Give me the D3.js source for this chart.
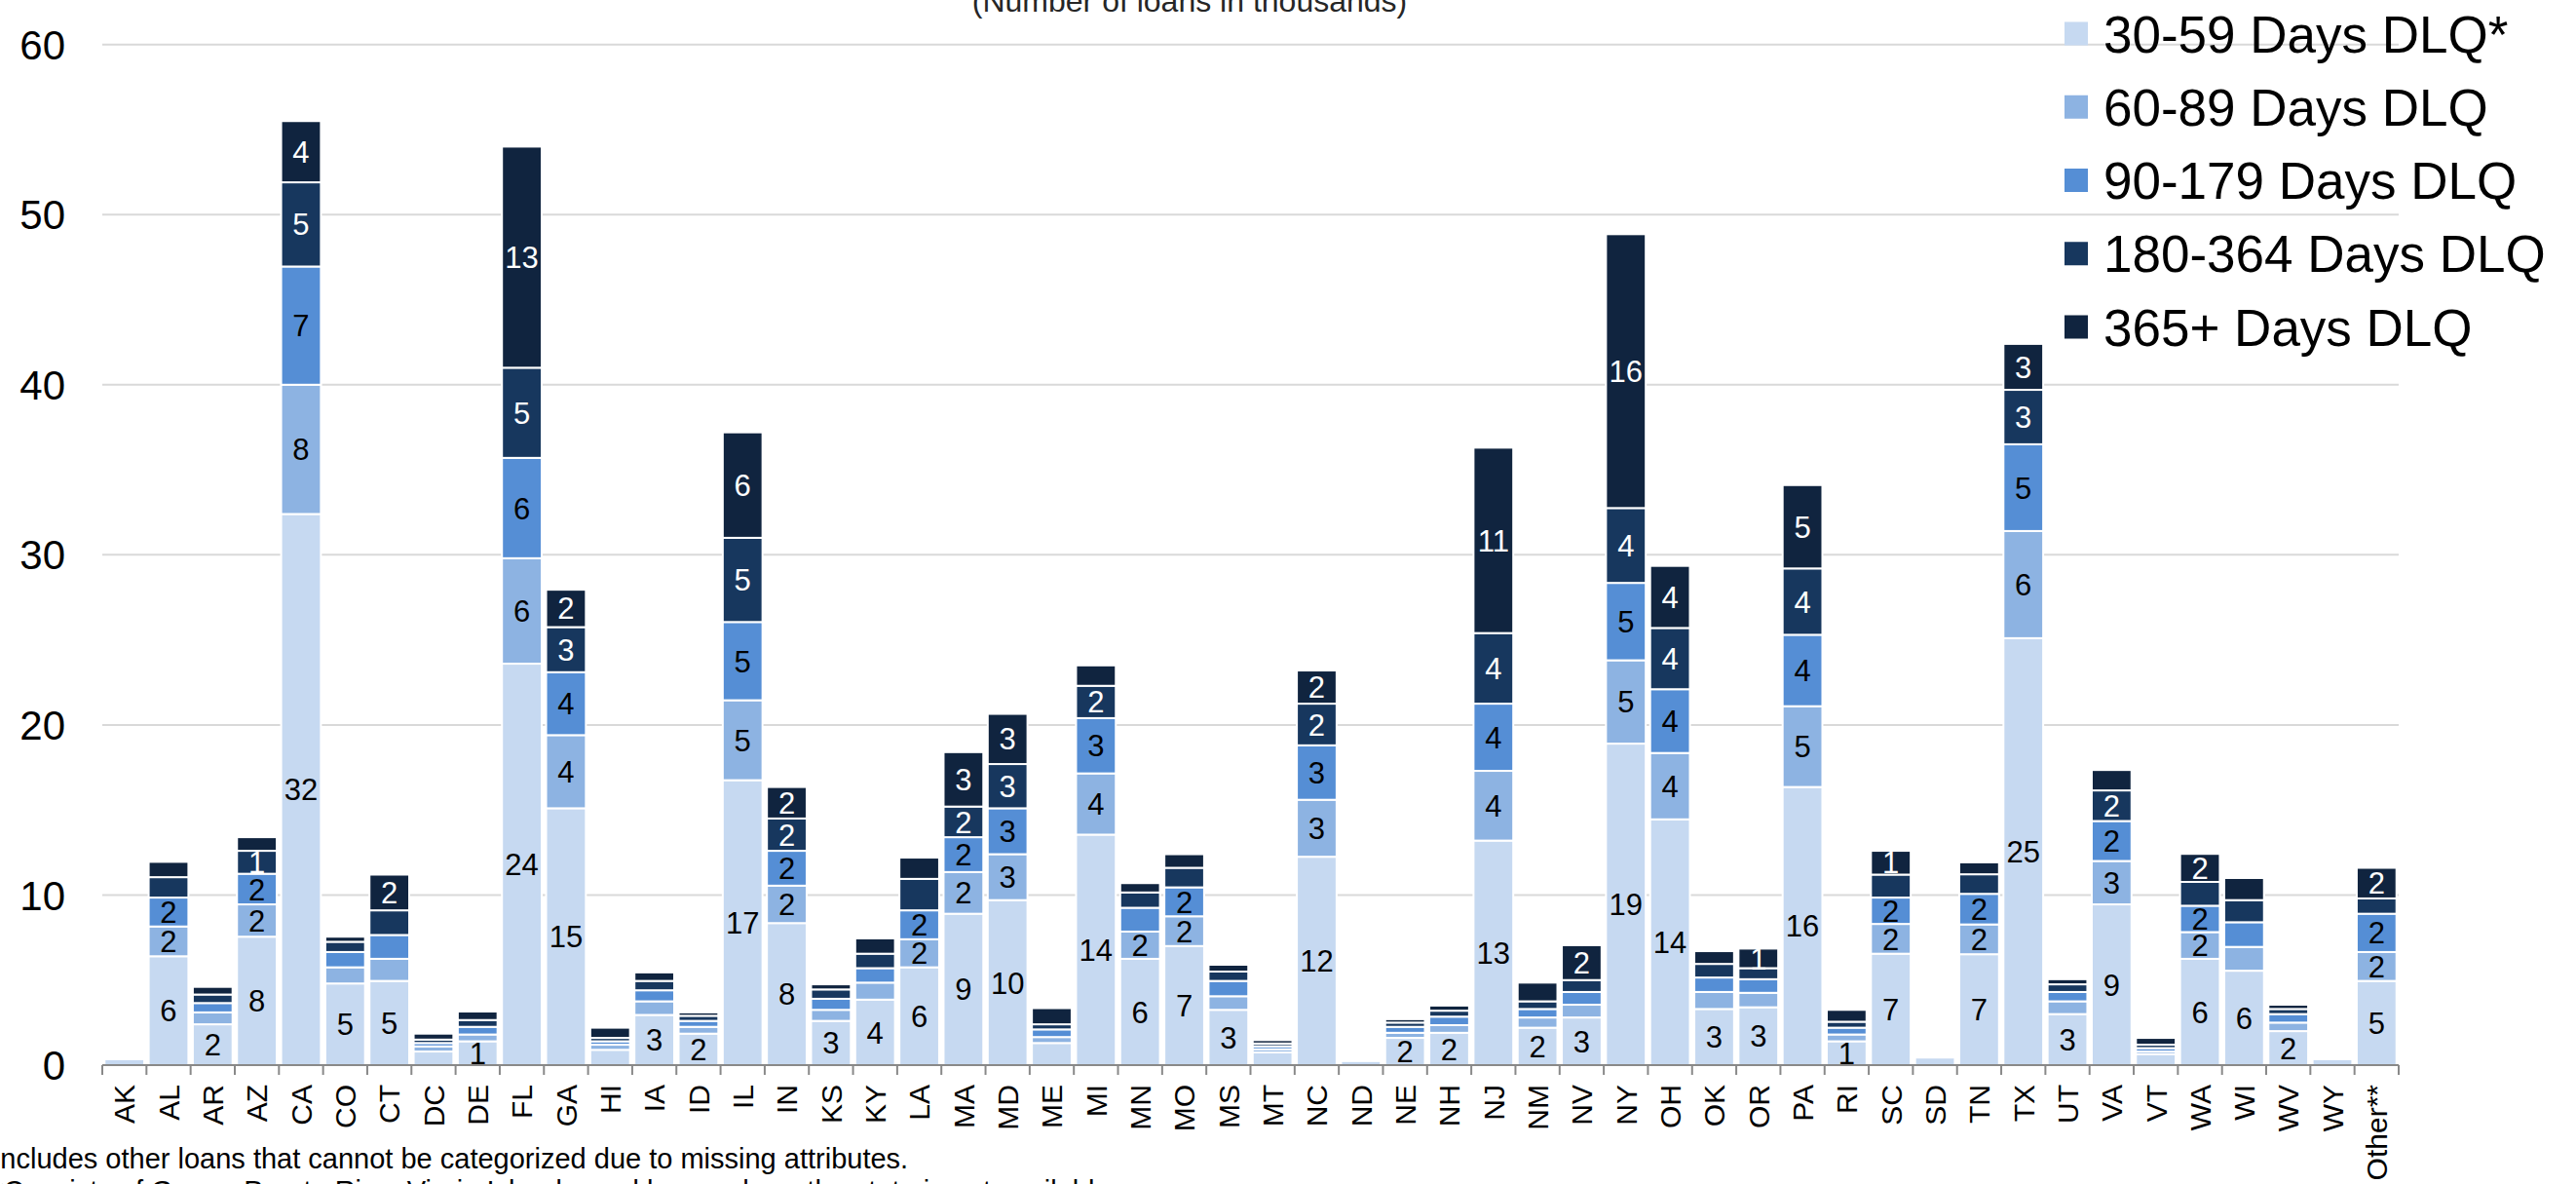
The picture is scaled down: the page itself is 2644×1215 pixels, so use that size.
<!DOCTYPE html>
<html>
<head>
<meta charset="utf-8">
<script src="https://cdn.jsdelivr.net/npm/d3@7"></script>
<style>
  html, body { margin: 0; padding: 0; background: #fff; }
  svg { display: block; }
  text { font-family: "Liberation Sans", Arial, sans-serif; }
</style>
</head>
<body>
<svg id="chart" width="2644" height="1215"></svg>
<script>
// ---------------- DATA ----------------
const states = ["AK","AL","AR","AZ","CA","CO","CT","DC","DE","FL","GA","HI","IA","ID","IL","IN","KS","KY","LA","MA","MD","ME","MI","MN","MO","MS","MT","NC","ND","NE","NH","NJ","NM","NV","NY","OH","OK","OR","PA","RI","SC","SD","TN","TX","UT","VA","VT","WA","WI","WV","WY","Other**"];

const seriesNames = ["30-59 Days DLQ*","60-89 Days DLQ","90-179 Days DLQ","180-364 Days DLQ","365+ Days DLQ"];

const dlq30_59 = [0.35,6.4,2.4,7.55,32.4,4.8,4.95,0.8,1.4,23.6,15.1,0.9,2.95,1.85,16.75,8.35,2.6,3.85,5.75,8.9,9.7,1.3,13.55,6.25,7.0,3.25,0.75,12.25,0.25,1.6,1.9,13.2,2.2,2.8,18.9,14.45,3.3,3.4,16.35,1.4,6.55,0.45,6.52,25.1,3.0,9.45,0.65,6.25,5.55,2.0,0.35,4.95];
const dlq60_89 = [0.1,1.75,0.7,1.9,7.6,0.95,1.3,0.3,0.4,6.2,4.3,0.3,0.8,0.4,4.7,2.2,0.65,1.0,1.65,2.45,2.7,0.35,3.6,1.6,1.75,0.8,0.18,3.35,0.03,0.3,0.45,4.1,0.6,0.75,4.9,3.9,1.0,0.85,4.75,0.4,1.75,0.05,1.75,6.3,0.75,2.55,0.15,1.57,1.4,0.5,0.03,1.7];
const dlq90_179 = [0.08,1.7,0.55,1.8,6.95,0.9,1.4,0.2,0.45,5.9,3.7,0.2,0.65,0.35,4.6,2.05,0.65,0.85,1.7,2.05,2.7,0.45,3.25,1.4,1.7,0.9,0.18,3.2,0.02,0.35,0.5,3.95,0.5,0.75,4.55,3.75,0.85,0.8,4.2,0.4,1.55,0.04,1.8,5.1,0.55,2.35,0.2,1.55,1.45,0.5,0.02,2.25];
const dlq180_364 = [0.05,1.2,0.5,1.35,4.95,0.6,1.45,0.2,0.4,5.3,2.65,0.2,0.55,0.3,4.95,1.9,0.55,0.85,1.85,1.8,2.6,0.3,1.9,0.9,1.15,0.55,0.16,2.45,0.01,0.25,0.35,4.15,0.45,0.7,4.4,3.6,0.8,0.65,3.9,0.35,1.35,0.03,1.15,3.2,0.45,1.8,0.2,1.4,1.3,0.3,0.02,0.9];
const dlq365plus = [0.05,0.9,0.45,0.8,3.6,0.3,2.1,0.35,0.5,13.0,2.2,0.6,0.5,0.2,6.2,1.85,0.3,0.9,1.25,3.2,2.95,0.95,1.2,0.55,0.8,0.4,0.2,1.95,0.01,0.2,0.3,10.9,1.1,2.05,16.1,3.65,0.75,1.15,4.9,0.7,1.4,0.03,0.7,2.7,0.3,1.2,0.4,1.65,1.3,0.25,0.02,1.8];

const yTicks = [0,10,20,30,40,50,60];

// data labels: shown when value >= 1.5, with exceptions
const labelHidden = ["LA|180-364 Days DLQ"];
const labelShown = ["DE|30-59 Days DLQ*","RI|30-59 Days DLQ*","AZ|180-364 Days DLQ","OR|365+ Days DLQ","SC|365+ Days DLQ"];

const titleText = "(Number of loans in thousands)";
const footnotes = [
  "*Includes other loans that cannot be categorized due to missing attributes.",
  "**Consists of Guam, Puerto Rico, Virgin Islands, and loans where the state is not available."
];

// ---------------- CHART ----------------
const colors = ["#c6d9f1","#8db3e2","#558ed5","#17375e","#10243f"];
const labelColors = ["#000","#000","#000","#fff","#fff"];

const seriesArrays = [dlq30_59, dlq60_89, dlq90_179, dlq180_364, dlq365plus];
const table = states.map((s, i) => {
  const row = { state: s };
  seriesNames.forEach((n, k) => row[n] = seriesArrays[k][i]);
  return row;
});

const svg = d3.select("#chart");
const plotLeft = 105, plotRight = 2462, plotTop = 45.7, plotBottom = 1093;

const x = d3.scaleBand().domain(states).range([plotLeft, plotRight]).paddingInner(0.1).paddingOuter(0.05);
const y = d3.scaleLinear().domain([0, 60]).range([plotBottom, plotTop]);

// gridlines
svg.append("g").selectAll("line").data(yTicks.filter(t => t > 0)).join("line")
  .attr("x1", plotLeft).attr("x2", plotRight)
  .attr("y1", d => y(d)).attr("y2", d => y(d))
  .attr("stroke", "#d9d9d9").attr("stroke-width", 2);

// y axis labels
svg.append("g").selectAll("text").data(yTicks).join("text")
  .attr("x", 67).attr("y", d => y(d)).attr("dy", "0.36em")
  .attr("text-anchor", "end").attr("font-size", 42).attr("fill", "#000")
  .text(d => d);

// stacked bars
const stack = d3.stack().keys(seriesNames);
const stacked = stack(table);

const gBars = svg.append("g");
stacked.forEach((layer, k) => {
  gBars.append("g").selectAll("rect").data(layer).join("rect")
    .attr("x", d => x(d.data.state))
    .attr("width", x.bandwidth())
    .attr("y", d => y(d[1]))
    .attr("height", d => Math.max(0, y(d[0]) - y(d[1])))
    .attr("fill", colors[k])
    .attr("stroke", "#fff").attr("stroke-width", 2);
});

// data labels
const gLabels = svg.append("g");
stacked.forEach((layer, k) => {
  const name = seriesNames[k];
  const items = layer.filter(d => {
    const key = d.data.state + "|" + name;
    const v = d[1] - d[0];
    if (labelHidden.includes(key)) return false;
    if (labelShown.includes(key)) return true;
    return v >= 1.5;
  });
  gLabels.append("g").selectAll("text").data(items).join("text")
    .attr("x", d => x(d.data.state) + x.bandwidth() / 2)
    .attr("y", d => (y(d[0]) + y(d[1])) / 2)
    .attr("dy", "0.36em")
    .attr("text-anchor", "middle")
    .attr("font-size", 31)
    .attr("fill", labelColors[k])
    .text(d => Math.round(d[1] - d[0]));
});

// x axis
const gx = svg.append("g");
gx.append("line").attr("x1", plotLeft).attr("x2", plotRight)
  .attr("y1", plotBottom).attr("y2", plotBottom)
  .attr("stroke", "#898989").attr("stroke-width", 2);
const boundaries = d3.range(states.length + 1).map(i => plotLeft + (plotRight - plotLeft) * i / states.length);
gx.selectAll("line.tick").data(boundaries).join("line").attr("class", "tick")
  .attr("x1", d => d).attr("x2", d => d)
  .attr("y1", plotBottom).attr("y2", plotBottom + 10)
  .attr("stroke", "#898989").attr("stroke-width", 2);
gx.selectAll("text").data(states).join("text")
  .attr("transform", d => `translate(${x(d) + x.bandwidth() / 2},${plotBottom + 20}) rotate(-90)`)
  .attr("dy", "0.36em")
  .attr("text-anchor", "end")
  .attr("font-size", 30).attr("fill", "#000")
  .text(d => d);

// title (mostly cut off at the top)
svg.append("text").attr("x", 1221).attr("y", 12)
  .attr("text-anchor", "middle").attr("font-size", 32).attr("fill", "#262626")
  .text(titleText);

// legend
const legend = svg.append("g");
seriesNames.forEach((n, k) => {
  const cy = 34.5 + k * 75.25;
  legend.append("rect").attr("x", 2119).attr("y", cy - 12).attr("width", 24).attr("height", 24)
    .attr("fill", colors[k]);
  legend.append("text").attr("x", 2159).attr("y", cy).attr("dy", "0.36em")
    .attr("font-size", 53).attr("fill", "#000").text(n);
});

// footnotes (partly cut off)
svg.append("g").selectAll("text").data(footnotes).join("text")
  .attr("x", -19).attr("y", (d, i) => 1199 + i * 33)
  .attr("font-size", 29).attr("fill", "#000")
  .text(d => d);
</script>
</body>
</html>
